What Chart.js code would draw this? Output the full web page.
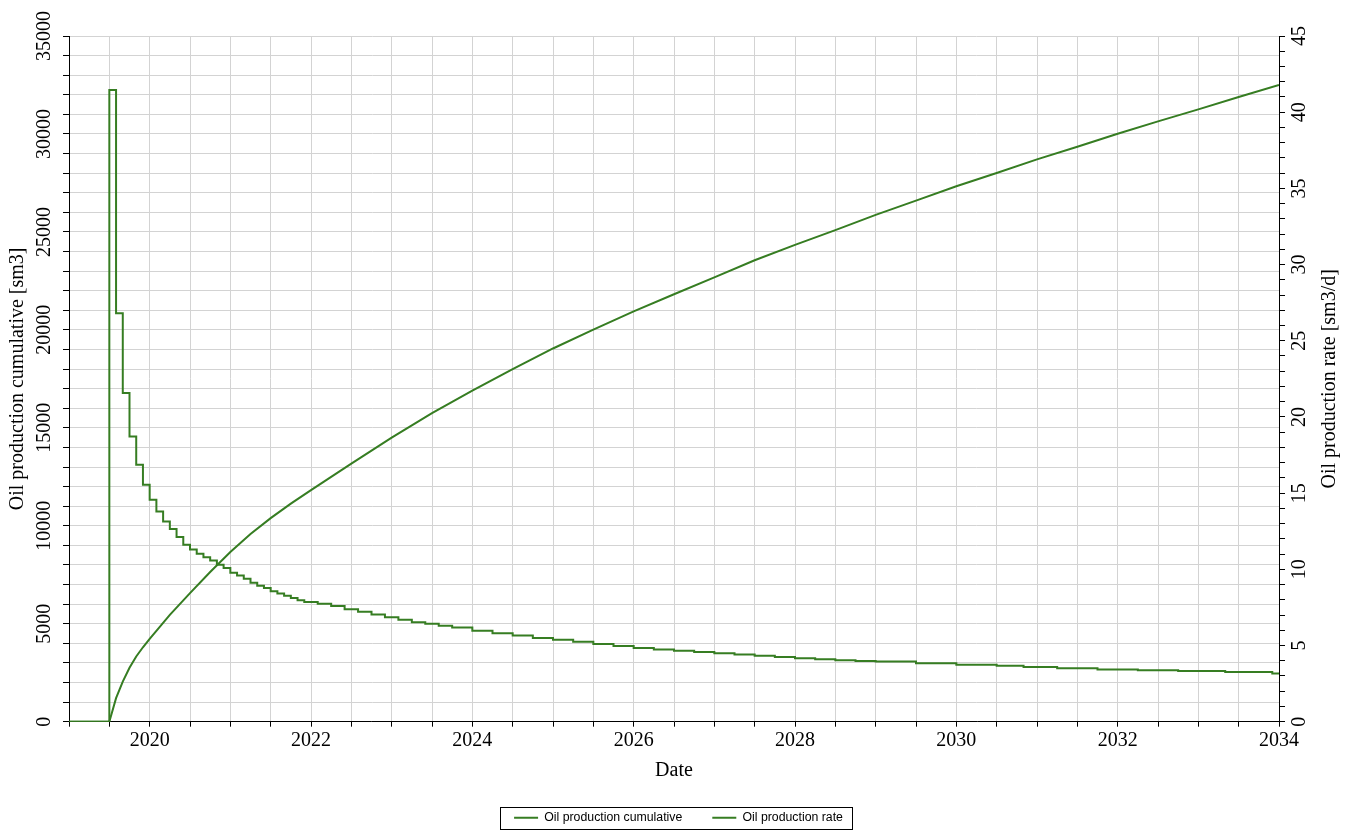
<!DOCTYPE html>
<html>
<head>
<meta charset="utf-8">
<title>Oil production</title>
<script src="https://cdn.jsdelivr.net/npm/chart.js@4/dist/chart.umd.min.js"></script>
<style>
  html, body { margin: 0; padding: 0; background: #fff; }
  canvas { display: block; }
</style>
</head>
<body>
<canvas id="chart" width="1357" height="836"></canvas>
<script>
// Oil production cumulative [sm3]
const cumDates = [
    '2019-01-01', '2019-07-01', '2019-08-01', '2019-09-01', '2019-10-01', '2019-11-01',
    '2019-12-01', '2020-01-01', '2020-04-01', '2020-07-01', '2020-10-01', '2021-01-01',
    '2021-04-01', '2021-07-01', '2021-10-01', '2022-01-01', '2022-04-01', '2022-07-01',
    '2022-10-01', '2023-01-01', '2023-04-01', '2023-07-01', '2023-10-01', '2024-01-01',
    '2024-07-01', '2025-01-01', '2025-07-01', '2026-01-01', '2026-07-01', '2027-01-01',
    '2027-07-01', '2028-01-01', '2028-07-01', '2029-01-01', '2029-07-01', '2030-01-01',
    '2030-07-01', '2031-01-01', '2031-07-01', '2032-01-01', '2032-07-01', '2033-01-01',
    '2033-07-01', '2034-01-01'
];
const cumValues = [
    0, 0, 1200, 2050, 2750, 3330,
    3800, 4230, 5450, 6560, 7640, 8660,
    9580, 10390, 11130, 11820, 12500, 13170,
    13840, 14500, 15130, 15750, 16330, 16900,
    18000, 19050, 20010, 20945, 21820, 22680,
    23555, 24340, 25090, 25870, 26595, 27330,
    28005, 28705, 29345, 30010, 30640, 31255,
    31885, 32500
];

// Oil production rate [sm3/d], each value holds until the next date
const rateDates = [
    '2019-01-01', '2019-07-01', '2019-08-01', '2019-09-01', '2019-10-01', '2019-11-01',
    '2019-12-01', '2020-01-01', '2020-02-01', '2020-03-01', '2020-04-01', '2020-05-01',
    '2020-06-01', '2020-07-01', '2020-08-01', '2020-09-01', '2020-10-01', '2020-11-01',
    '2020-12-01', '2021-01-01', '2021-02-01', '2021-03-01', '2021-04-01', '2021-05-01',
    '2021-06-01', '2021-07-01', '2021-08-01', '2021-09-01', '2021-10-01', '2021-11-01',
    '2021-12-01', '2022-02-01', '2022-04-01', '2022-06-01', '2022-08-01', '2022-10-01',
    '2022-12-01', '2023-02-01', '2023-04-01', '2023-06-01', '2023-08-01', '2023-10-01',
    '2024-01-01', '2024-04-01', '2024-07-01', '2024-10-01', '2025-01-01', '2025-04-01',
    '2025-07-01', '2025-10-01', '2026-01-01', '2026-04-01', '2026-07-01', '2026-10-01',
    '2027-01-01', '2027-04-01', '2027-07-01', '2027-10-01', '2028-01-01', '2028-04-01',
    '2028-07-01', '2028-10-01', '2029-01-01', '2029-07-01', '2030-01-01', '2030-07-01',
    '2030-11-01', '2031-04-01', '2031-10-01', '2032-04-01', '2032-10-01', '2033-05-01',
    '2033-12-01', '2034-01-01'
];
const rateValues = [
    0, 41.45, 26.8, 21.57, 18.72, 16.86,
    15.55, 14.57, 13.80, 13.14, 12.64, 12.12,
    11.61, 11.30, 11.02, 10.80, 10.58, 10.30,
    10.08, 9.78, 9.60, 9.38, 9.12, 8.93,
    8.77, 8.56, 8.41, 8.27, 8.12, 7.97,
    7.85, 7.74, 7.60, 7.38, 7.22, 7.03,
    6.85, 6.69, 6.52, 6.42, 6.30, 6.18,
    5.97, 5.80, 5.65, 5.50, 5.37, 5.24,
    5.10, 4.96, 4.83, 4.74, 4.65, 4.57,
    4.50, 4.41, 4.32, 4.24, 4.17, 4.10,
    4.04, 3.99, 3.95, 3.84, 3.73, 3.67,
    3.59, 3.50, 3.43, 3.37, 3.32, 3.26,
    3.17, 3.17
];

// Axis ranges
const yearRange = [2019, 2034];
const cumRange = [0, 35000];
const rateRange = [0, 45];

const lineColor = '#367d22';
const gridColor = '#d3d3d3';
const serif = '"Liberation Serif", "Times New Roman", serif';

// 'YYYY-MM-DD' -> decimal year
function toYear(s) {
    const [y, m, d] = s.split('-').map(Number);
    return y + (m - 1) / 12 + (d - 1) / 365;
}

function toPoints(dates, values) {
    return dates.map((d, i) => ({ x: toYear(d), y: values[i] }));
}

// Axis labels (rotated like the original) and the legend frame
const axisText = {
    id: 'axisText',
    afterDraw(chart) {
        const { ctx, chartArea: a, scales } = chart;
        ctx.save();
        ctx.fillStyle = '#000';
        ctx.font = '20px ' + serif;
        ctx.textAlign = 'center';
        ctx.textBaseline = 'middle';

        const vert = (text, x, y) => {
            ctx.save();
            ctx.translate(x, y);
            ctx.rotate(-Math.PI / 2);
            ctx.fillText(text, 0, 0);
            ctx.restore();
        };

        scales.x.ticks.forEach(t => {
            if (t.value % 2 === 0) {
                ctx.fillText(String(t.value), scales.x.getPixelForValue(t.value), a.bottom + 19);
            }
        });
        scales.y.ticks.forEach(t => {
            if (t.value % 5000 === 0) {
                vert(String(t.value), a.left - 24, scales.y.getPixelForValue(t.value));
            }
        });
        scales.y1.ticks.forEach(t => {
            if (t.value % 5 === 0) {
                vert(String(t.value), a.right + 21, scales.y1.getPixelForValue(t.value));
            }
        });

        ctx.fillText('Date', (a.left + a.right) / 2, a.bottom + 49);
        vert('Oil production cumulative [sm3]', a.left - 51, (a.top + a.bottom) / 2);
        vert('Oil production rate [sm3/d]', a.right + 51, (a.top + a.bottom) / 2);

        // frame round the legend
        const boxes = chart.legend && chart.legend.legendHitBoxes;
        if (boxes && boxes.length) {
            const first = boxes[0];
            const last = boxes[boxes.length - 1];
            const left = Math.round(first.left - 14) + 0.5;
            const right = Math.round(last.left + last.width + 9) + 0.5;
            const top = Math.round(first.top - 5) + 0.5;
            const bottom = Math.round(first.top + 17) + 0.5;
            ctx.strokeStyle = '#000';
            ctx.lineWidth = 1;
            ctx.strokeRect(left, top, right - left, bottom - top);
        }
        ctx.restore();
    }
};

function initChart() {
    const ctx = document.getElementById('chart').getContext('2d');
    new Chart(ctx, {
        type: 'line',
        data: {
            datasets: [{
                label: 'Oil production cumulative',
                data: toPoints(cumDates, cumValues),
                yAxisID: 'y',
                borderColor: lineColor,
                backgroundColor: lineColor,
                borderWidth: 2,
                pointRadius: 0,
                tension: 0
            }, {
                label: 'Oil production rate',
                data: toPoints(rateDates, rateValues),
                yAxisID: 'y1',
                stepped: true,
                borderColor: lineColor,
                backgroundColor: lineColor,
                borderWidth: 2,
                pointRadius: 0
            }]
        },
        options: {
            responsive: false,
            animation: false,
            layout: { padding: { top: 36, bottom: 2, left: 0, right: 0 } },
            plugins: {
                tooltip: { enabled: false },
                legend: {
                    position: 'bottom',
                    labels: {
                        usePointStyle: true,
                        pointStyle: 'line',
                        pointStyleWidth: 24,
                        padding: 30,
                        color: '#000',
                        font: { family: '"Liberation Sans", Arial, sans-serif', size: 12.3 }
                    }
                }
            },
            scales: {
                x: {
                    type: 'linear',
                    min: yearRange[0],
                    max: yearRange[1],
                    ticks: { stepSize: 0.5, display: false },
                    grid: { color: gridColor, tickColor: '#000', tickLength: 5 },
                    border: { color: '#000', width: 1 },
                    afterFit: s => { s.height = 60; }
                },
                y: {
                    position: 'left',
                    min: cumRange[0],
                    max: cumRange[1],
                    ticks: { stepSize: 1000, maxTicksLimit: 100, display: false },
                    grid: { color: gridColor, tickColor: '#000', tickLength: 6 },
                    border: { color: '#000', width: 1 },
                    afterFit: s => { s.width = 69; }
                },
                y1: {
                    position: 'right',
                    min: rateRange[0],
                    max: rateRange[1],
                    ticks: { stepSize: 1, maxTicksLimit: 100, display: false },
                    grid: { drawOnChartArea: false, tickColor: '#000', tickLength: 6 },
                    border: { color: '#000', width: 1 },
                    afterFit: s => { s.width = 78; }
                }
            }
        },
        plugins: [axisText]
    });
}

document.addEventListener('DOMContentLoaded', initChart);
</script>
</body>
</html>
